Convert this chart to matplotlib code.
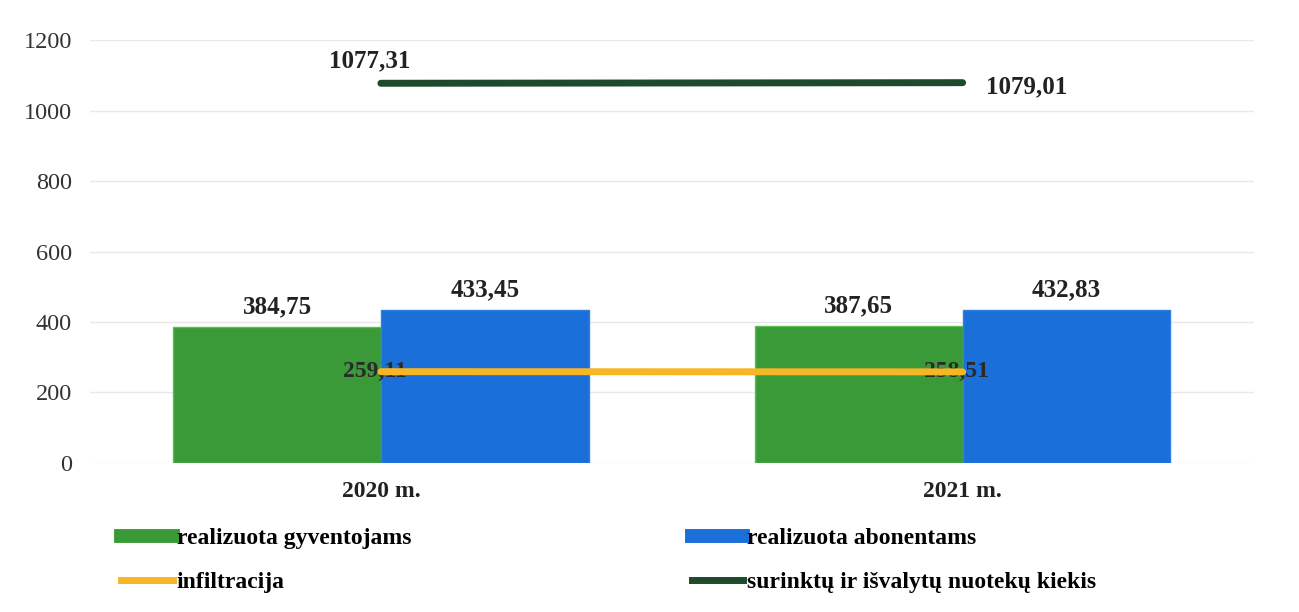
import numpy as np
import matplotlib.pyplot as plt
from matplotlib.lines import Line2D

# ── DATA ────────────────────────────────────────────────────────────
years        = ["2020 m.", "2021 m."]
gyventojams  = [384.75, 387.65]
abonentams   = [433.45, 432.83]
infiltracija = [259.11, 258.51]
surinkta     = [1077.31, 1079.01]
y_ticks      = [0, 200, 400, 600, 800, 1000, 1200]
# ────────────────────────────────────────────────────────────────────

GREEN = "#3a9a38"
BLUE = "#1a6fd8"
ORANGE = "#f7b625"
DARK = "#1c4a2a"


def fmt(v):
    return f"{v:.2f}".replace(".", ",")


plt.rcParams["font.family"] = ["Liberation Serif", "DejaVu Serif"]

fig = plt.figure(figsize=(12.99, 6.12), dpi=100)
ax = fig.add_axes([0.0693, 0.2435, 0.8957, 0.6911])

x = np.arange(len(years))
w = 0.357

b1 = ax.bar(x - w / 2, gyventojams, w, color=GREEN, edgecolor="#5cbf4f", lw=1, zorder=2)
b2 = ax.bar(x + w / 2, abonentams, w, color=BLUE, edgecolor="#2f7fe0", lw=1, zorder=2)
ax.plot(x, infiltracija, color=ORANGE, lw=5, solid_capstyle="round", zorder=4)
ax.plot(x, surinkta, color=DARK, lw=5, solid_capstyle="round", zorder=4)

for rect, v in zip(list(b1) + list(b2), gyventojams + abonentams):
    ax.text(rect.get_x() + rect.get_width() / 2, v + 25, fmt(v),
            ha="center", va="bottom", fontsize=18, fontweight="bold", color="#222222")

for xi, v in zip(x, infiltracija):
    ax.text(xi - 0.01, v, fmt(v), ha="center", va="center", fontsize=17,
            fontweight="bold", color="#2a2a2a", zorder=3)

ax.text(x[0] - 0.02, surinkta[0] + 30, fmt(surinkta[0]), ha="center", va="bottom",
        fontsize=18, fontweight="bold", color="#222222")
ax.text(x[1] + 0.04, surinkta[1] - 12, fmt(surinkta[1]), ha="left", va="center",
        fontsize=18, fontweight="bold", color="#222222")

ax.set_xlim(-0.50, 1.50)
ax.set_ylim(0, 1200)
ax.set_yticks(y_ticks)
ax.set_yticklabels([str(t) for t in y_ticks], fontsize=17.5, color="#333333")
ax.set_xticks(x)
ax.set_xticklabels(years, fontsize=17, fontweight="bold", color="#222222")
ax.tick_params(length=0)
ax.tick_params(axis="x", pad=13)
ax.tick_params(axis="y", pad=13)
ax.grid(axis="y", color="#e8e8e8", lw=1)
ax.set_axisbelow(True)
for s in ax.spines.values():
    s.set_visible(False)

h1 = [Line2D([], [], color=GREEN, lw=10), Line2D([], [], color=ORANGE, lw=5)]
h2 = [Line2D([], [], color=BLUE, lw=10), Line2D([], [], color=DARK, lw=5)]
kw = dict(frameon=False, handlelength=2.2, handletextpad=0.15, labelspacing=0.95,
          prop={"size": 17, "weight": "bold"}, loc="upper left")
leg1 = fig.legend(h1, ["realizuota gyventojams", "infiltracija"],
                  bbox_to_anchor=(0.077, 0.173), **kw)
leg2 = fig.legend(h2, ["realizuota abonentams", "surinktų ir išvalytų nuotekų kiekis"],
                  bbox_to_anchor=(0.516, 0.173), **kw)

fig.savefig("out.png", dpi=100)
